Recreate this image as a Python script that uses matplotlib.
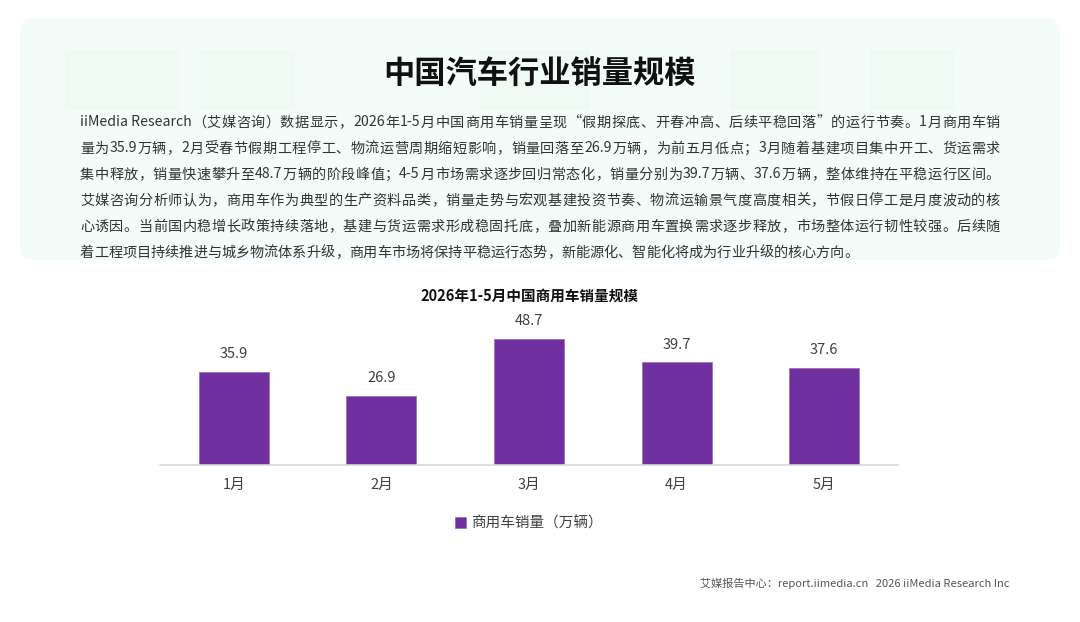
import matplotlib
matplotlib.use('Agg')
import matplotlib.pyplot as plt
from matplotlib import font_manager
from matplotlib.font_manager import FontProperties
from matplotlib.patches import FancyBboxPatch, Rectangle

plt.rcParams['font.family'] = ['Noto Sans CJK SC', 'DejaVu Sans']

# 数据
months = ['1月', '2月', '3月', '4月', '5月']
sales = [35.9, 26.9, 48.7, 39.7, 37.6]
series_name = '商用车销量（万辆）'

page_title = '中国汽车行业销量规模'
chart_title = '2026年1-5月中国商用车销量规模'
paragraph = [
    'iiMedia Research（艾媒咨询）数据显示，2026年1-5月中国商用车销量呈现“假期探底、开春冲高、后续平稳回落”的运行节奏。1月商用车销',
    '量为35.9万辆，2月受春节假期工程停工、物流运营周期缩短影响，销量回落至26.9万辆，为前五月低点；3月随着基建项目集中开工、货运需求',
    '集中释放，销量快速攀升至48.7万辆的阶段峰值；4-5月市场需求逐步回归常态化，销量分别为39.7万辆、37.6万辆，整体维持在平稳运行区间。',
    '艾媒咨询分析师认为，商用车作为典型的生产资料品类，销量走势与宏观基建投资节奏、物流运输景气度高度相关，节假日停工是月度波动的核',
    '心诱因。当前国内稳增长政策持续落地，基建与货运需求形成稳固托底，叠加新能源商用车置换需求逐步释放，市场整体运行韧性较强。后续随',
    '着工程项目持续推进与城乡物流体系升级，商用车市场将保持平稳运行态势，新能源化、智能化将成为行业升级的核心方向。',
]
footer = '艾媒报告中心：report.iimedia.cn   2026 iiMedia Research Inc'

W, H, DPI = 1080, 622, 100
BAR_COLOR = '#7030a0'


def draw_line(ax, s, x0, y, size, color, width=None):
    # 逐字排版，两端对齐（只在中文字符旁边加间距）
    font = font_manager.get_font(font_manager.findfont(FontProperties(family='Noto Sans CJK SC')))
    font.set_size(size, DPI)
    adv = [font.load_char(ord(c)).linearHoriAdvance / 65536 for c in s]
    slots = set(i for i in range(len(s) - 1) if not (s[i].isascii() and s[i + 1].isascii()))
    extra = 0
    if width is not None and slots:
        extra = (width - sum(adv)) / len(slots)
    # 连续的 ASCII 片段整体输出，避免字距被打乱
    x = x0
    i = 0
    while i < len(s):
        j = i + 1
        if s[i].isascii():
            while j < len(s) and s[j].isascii():
                j += 1
        ax.text(x, y, s[i:j], fontsize=size, color=color, ha='left', va='baseline')
        for k in range(i, j):
            x += adv[k] + (extra if k in slots else 0)
        i = j


fig = plt.figure(figsize=(W / DPI, H / DPI), dpi=DPI)
fig.patch.set_facecolor('white')

bg = fig.add_axes([0, 0, 1, 1])
bg.set_xlim(0, W)
bg.set_ylim(H, 0)
bg.axis('off')

# 顶部浅绿色底板
bg.add_patch(FancyBboxPatch((20, 18), 1040, 242, boxstyle='round,pad=0,rounding_size=14',
                            fc='#f4fcfa', ec='none', zorder=0))
for bx, bw in [(65, 115), (200, 95), (480, 110), (730, 90), (870, 85)]:
    bg.add_patch(Rectangle((bx, 50), bw, 60, fc='#e6f7e8', ec='none', alpha=0.3, zorder=0))

bg.text(540, 75, page_title, fontsize=22.5, fontweight='heavy', color='#111111',
        ha='center', va='center')

for k, line in enumerate(paragraph):
    last = k == len(paragraph) - 1
    draw_line(bg, line, 80, 126.5 + 26 * k, 10.2, '#333333', width=None if last else 920)

bg.text(1010, 583, footer, fontsize=8, color='#555555', ha='right', va='center')

# 柱状图
ax = fig.add_axes([160 / W, (H - 465) / H, 738 / W, 155 / H])
x = list(range(len(months)))
bars = ax.bar(x, sales, width=0.475, color=BAR_COLOR, edgecolor='#9b72c0', linewidth=0.6,
              label=series_name, zorder=2)
for b, v in zip(bars, sales):
    ax.text(b.get_x() + b.get_width() / 2, v + 6.9, f'{v:.1f}', ha='center', va='center',
            fontsize=10.5, color='#404040')
ax.set_xlim(-0.5, len(months) - 0.5)
ax.set_ylim(0, 60)
ax.set_xticks(x)
ax.set_xticklabels(months, fontsize=10.5, color='#404040')
ax.tick_params(axis='x', length=0, pad=9)
ax.set_yticks([])
for sp in ['top', 'right', 'left']:
    ax.spines[sp].set_visible(False)
ax.spines['bottom'].set_color('#d9d9d9')
ax.spines['bottom'].set_linewidth(1.2)
ax.patch.set_alpha(0)

ax.set_title(chart_title, fontsize=10.5, fontweight='bold', color='#111111', pad=7)

ax.legend(loc='center', bbox_to_anchor=(0.5, -0.375), frameon=False, fontsize=10.5,
          handlelength=0.75, handleheight=0.75, handletextpad=0.4, labelcolor='#404040')

fig.savefig('out.png', dpi=DPI)
